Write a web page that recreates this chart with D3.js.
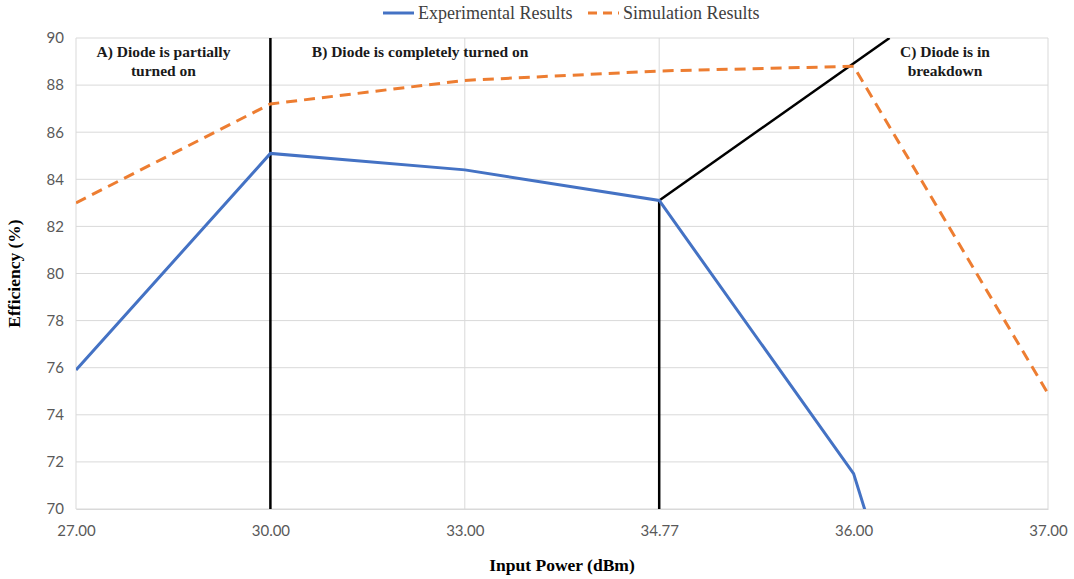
<!DOCTYPE html>
<html>
<head>
<meta charset="utf-8">
<script src="https://cdn.jsdelivr.net/npm/d3@7"></script>
<style>
    body { margin: 0; background: #fff; }
</style>
</head>
<body>
<div id="chart"></div>
<script>
const expColor = "#4472C4"
const simColor = "#ED7D31"

const categories = ["27.00", "30.00", "33.00", "34.77", "36.00", "37.00"];
const experimental = [75.9, 85.1, 84.4, 83.1, 71.5, 45.0];
const simulation = [83.0, 87.2, 88.2, 88.6, 88.8, 74.9];
const yTicks = [70, 72, 74, 76, 78, 80, 82, 84, 86, 88, 90];

// region boundaries, in category index / efficiency units
const boundaryLines = [
    [[1, 70], [1, 90]],
    [[3, 70], [3, 83.1]],
    [[3, 83.1], [4.185, 90]]
];
const regionLabels = [
    { x: 0.45, lines: ["A) Diode is partially", "turned on"] },
    { x: 1.77, lines: ["B) Diode is completely turned on"] },
    { x: 4.47, lines: ["C) Diode is in", "breakdown"] }
];

function drawChart() {
    const margin = { top: 38, right: 26, bottom: 70, left: 76 };
    const width = 1074 - margin.left - margin.right;
    const height = 579 - margin.top - margin.bottom;

    const svg = d3.select("#chart")
        .append("svg")
        .attr("width", 1074)
        .attr("height", 579)
        .append("g")
        .attr("transform", "translate(" + margin.left + "," + margin.top + ")");

    const x = d3.scaleLinear()
        .domain([0, categories.length - 1])
        .range([0, width]);

    const y = d3.scaleLinear()
        .domain([70, 90])
        .range([height, 0]);

    svg.append("clipPath")
        .attr("id", "plotclip")
        .append("rect")
        .attr("width", width)
        .attr("height", height);

    // grid
    svg.selectAll(".hgrid")
        .data(yTicks)
        .enter().append("line")
        .attr("x1", 0).attr("x2", width)
        .attr("y1", d => y(d)).attr("y2", d => y(d))
        .attr("stroke", "#d9d9d9").attr("stroke-width", 1);

    svg.selectAll(".vgrid")
        .data(categories)
        .enter().append("line")
        .attr("x1", (d, i) => x(i)).attr("x2", (d, i) => x(i))
        .attr("y1", 0).attr("y2", height)
        .attr("stroke", "#d9d9d9").attr("stroke-width", 1);

    // axes
    const xAxis = svg.append("g")
        .attr("transform", "translate(0," + height + ")")
        .call(d3.axisBottom(x).tickValues(d3.range(categories.length)).tickFormat(i => categories[i]).tickSize(0).tickPadding(16));
    xAxis.select(".domain").attr("stroke", "#d9d9d9");

    const yAxis = svg.append("g")
        .call(d3.axisLeft(y).tickValues(yTicks).tickSize(0).tickPadding(12));
    yAxis.select(".domain").remove();

    svg.selectAll(".tick text")
        .attr("font-family", "Lato, 'Open Sans', sans-serif")
        .attr("font-size", 15)
        .attr("fill", "#595959");

    const line = d3.line()
        .x((d, i) => x(i))
        .y(d => y(d));

    const plot = svg.append("g").attr("clip-path", "url(#plotclip)");

    // boundary lines
    plot.selectAll(".boundary")
        .data(boundaryLines)
        .enter().append("line")
        .attr("x1", d => x(d[0][0])).attr("y1", d => y(d[0][1]))
        .attr("x2", d => x(d[1][0])).attr("y2", d => y(d[1][1]))
        .attr("stroke", "black")
        .attr("stroke-width", 2.5);

    plot.append("path")
        .datum(simulation)
        .attr("d", line)
        .attr("fill", "none")
        .attr("stroke", simColor)
        .attr("stroke-width", 3)
        .attr("stroke-dasharray", "11,7");

    plot.append("path")
        .datum(experimental)
        .attr("d", line)
        .attr("fill", "none")
        .attr("stroke", expColor)
        .attr("stroke-width", 3);

    // region labels
    regionLabels.forEach(r => {
        const t = svg.append("text")
            .attr("x", x(r.x))
            .attr("y", 19)
            .attr("text-anchor", "middle")
            .attr("font-family", "'Liberation Serif', 'Times New Roman', serif")
            .attr("font-weight", "bold")
            .attr("font-size", 15.5)
            .attr("fill", "#1a1a1a");
        r.lines.forEach((l, i) => {
            t.append("tspan")
                .attr("x", x(r.x))
                .attr("dy", i === 0 ? 0 : 19)
                .text(l);
        });
    });

    // axis titles
    svg.append("text")
        .attr("x", width / 2)
        .attr("y", height + 62)
        .attr("text-anchor", "middle")
        .attr("font-family", "'Liberation Serif', 'Times New Roman', serif")
        .attr("font-weight", "bold")
        .attr("font-size", 17.5)
        .text("Input Power (dBm)");

    svg.append("text")
        .attr("transform", "translate(" + (-56) + "," + (height / 2) + ") rotate(-90)")
        .attr("text-anchor", "middle")
        .attr("font-family", "'Liberation Serif', 'Times New Roman', serif")
        .attr("font-weight", "bold")
        .attr("font-size", 17.5)
        .text("Efficiency (%)");

    // legend
    const legend = d3.select("svg").append("g")
        .attr("transform", "translate(383,13)");

    const legendItems = [
        { name: "Experimental Results", color: expColor, dash: null, x: 0 },
        { name: "Simulation Results", color: simColor, dash: "9,6", x: 205 }
    ];
    legendItems.forEach(d => {
        legend.append("line")
            .attr("x1", d.x).attr("x2", d.x + 31)
            .attr("y1", 0).attr("y2", 0)
            .attr("stroke", d.color)
            .attr("stroke-width", 3)
            .attr("stroke-dasharray", d.dash);
        legend.append("text")
            .attr("x", d.x + 35)
            .attr("y", 6)
            .attr("font-family", "'Liberation Serif', 'Times New Roman', serif")
            .attr("font-size", 18)
            .attr("fill", "#404040")
            .text(d.name);
    });
}

drawChart();
</script>
</body>
</html>
